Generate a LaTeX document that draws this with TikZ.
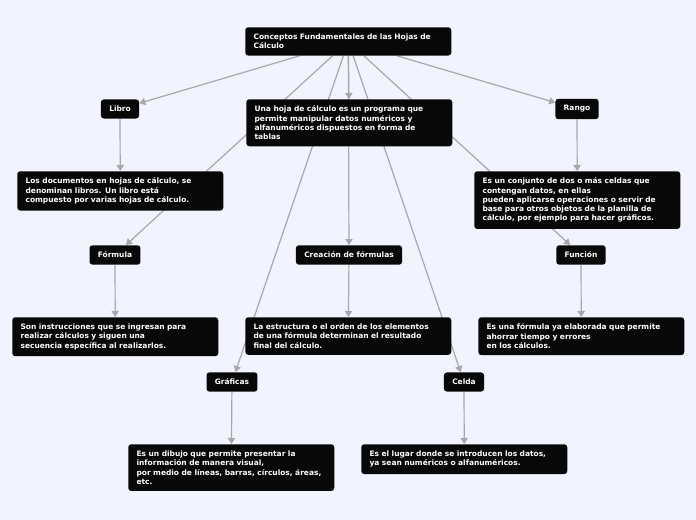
\documentclass[tikz,border=0pt]{standalone}
\usepackage{fontspec}
\setmainfont{DejaVu Sans}
\usetikzlibrary{arrows.meta,backgrounds}

\definecolor{mapbg}{RGB}{241,244,255}
\definecolor{mapline}{RGB}{168,168,168}
\definecolor{mapbox}{RGB}{8,8,8}

\tikzset{
  topic/.style={fill=mapbox, text=white, rounded corners=2.25pt, inner xsep=6.25pt, inner ysep=5pt,
    font=\bfseries\fontsize{5.6}{6.9}\selectfont},
  note/.style={topic, anchor=north west, text width=142pt, align=left},
  link/.style={draw=mapline, line width=0.9pt, -{Triangle[width=5.5pt,length=4.5pt]}}
}

\begin{document}
\begin{tikzpicture}[x=0.75pt,y=0.75pt,yscale=-1,xscale=1]

%Text boxes
\node[note] (titulo) at (245,27) {Conceptos Fundamentales de las Hojas de\\Cálculo};
\node[note] (hoja) at (246,99) {Una hoja de cálculo es un programa que\\permite manipular datos numéricos y\\alfanuméricos dispuestos en forma de\\tablas};
\node[note] (documentos) at (17,171) {Los documentos en hojas de cálculo, se\\denominan libros. Un libro está\\compuesto por varias hojas de cálculo.};
\node[note] (conjunto) at (474,171) {Es un conjunto de dos o más celdas que\\contengan datos, en ellas\\pueden aplicarse operaciones o servir de\\base para otros objetos de la planilla de\\cálculo, por ejemplo para hacer gráficos.};
\node[note] (instrucciones) at (12,317) {Son instrucciones que se ingresan para\\realizar cálculos y siguen una\\secuencia específica al realizarlos.};
\node[note] (estructura) at (245,317) {La estructura o el orden de los elementos\\de una fórmula determinan el resultado\\final del cálculo.};
\node[note] (elaborada) at (478,317) {Es una fórmula ya elaborada que permite\\ahorrar tiempo y errores\\en los cálculos.};
\node[note] (dibujo) at (128,444) {Es un dibujo que permite presentar la\\información de manera visual,\\por medio de líneas, barras, círculos, áreas,\\etc.};
\node[note] (lugar) at (361,444) {Es el lugar donde se introducen los datos,\\ya sean numéricos o alfanuméricos.};

%Topics
\node[topic] (libro) at (120,109) {Libro};
\node[topic] (rango) at (577,109) {Rango};
\node[topic] (formula) at (115,255) {Fórmula};
\node[topic] (creacion) at (349,255) {Creación de fórmulas};
\node[topic] (funcion) at (581,255) {Función};
\node[topic] (graficas) at (232,382) {Gráficas};
\node[topic] (celda) at (464,382) {Celda};

\begin{pgfonlayer}{background}
  \fill[mapbg] (0,0) rectangle (696,520);
  %Connectors from the title
  \draw[link] (titulo) -- (libro);
  \draw[link] (titulo) -- (rango);
  \draw[link] (titulo) -- (hoja);
  \draw[link] (titulo) -- (creacion);
  \draw[link] (titulo) -- (formula);
  \draw[link] (titulo) -- (funcion);
  \draw[link] (titulo) -- (graficas);
  \draw[link] (titulo) -- (celda);
  %Connectors to the notes
  \draw[link] (libro) -- (documentos);
  \draw[link] (rango) -- (conjunto);
  \draw[link] (formula) -- (instrucciones);
  \draw[link] (creacion) -- (estructura);
  \draw[link] (funcion) -- (elaborada);
  \draw[link] (graficas) -- (dibujo);
  \draw[link] (celda) -- (lugar);
\end{pgfonlayer}

\end{tikzpicture}
\end{document}
